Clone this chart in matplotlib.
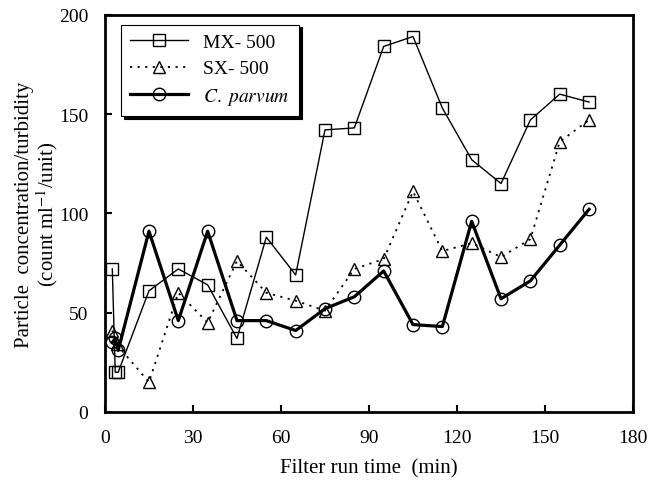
import matplotlib
matplotlib.use("Agg")
import matplotlib.pyplot as plt

plt.rcParams['font.family'] = ['Liberation Serif', 'DejaVu Serif']
plt.rcParams['mathtext.fontset'] = 'stix'

# MX-500 particle counts
mx_t = [2.5, 3.5, 4.5, 15, 25, 35, 45, 55, 65, 75, 85, 95, 105, 115, 125, 135, 145, 155, 165]
mx_v = [72, 20, 20, 61, 72, 64, 37, 88, 69, 142, 143, 184, 189, 153, 127, 115, 147, 160, 156]

# SX-500 particle counts
sx_t = [2.5, 4, 15, 25, 35, 45, 55, 65, 75, 85, 95, 105, 115, 125, 135, 145, 155, 165]
sx_v = [41, 34, 15, 60, 45, 76, 60, 56, 51, 72, 77, 111, 81, 85, 78, 87, 136, 147]

# C. parvum
cp_t = [2.5, 3.5, 4.5, 15, 25, 35, 45, 55, 65, 75, 85, 95, 105, 115, 125, 135, 145, 155, 165]
cp_v = [35, 37, 31, 91, 46, 91, 46, 46, 41, 52, 58, 71, 44, 43, 96, 57, 66, 84, 102]

fig = plt.figure(figsize=(6.56, 4.81), dpi=100)
ax = fig.add_axes([0.160, 0.1414, 0.805, 0.826])

ax.plot(mx_t, mx_v, color='black', lw=1.0, marker='s', ms=9, mfc='none', mew=1.0,
        label='MX- 500')
ax.plot(sx_t, sx_v, color='black', lw=1.3, ls=(0, (1.2, 3)), marker='^', ms=9, mfc='none',
        mew=1.0, label='SX- 500')
ax.plot(cp_t, cp_v, color='black', lw=2.3, marker='o', ms=9, mfc='none', mew=1.0,
        label='$\\mathit{C.\\ parvum}$')

ax.set_xlim(0, 180)
ax.set_ylim(0, 200)
ax.set_xticks([0, 30, 60, 90, 120, 150, 180])
ax.set_yticks([0, 50, 100, 150, 200])
ax.tick_params(direction='in', length=5, width=1.5, labelsize=14, pad=12)
for s in ax.spines.values():
    s.set_linewidth(2)

ax.set_xlabel('Filter run time  (min)', fontsize=15, labelpad=9)
ax.set_ylabel('Particle  concentration/turbidity\n(count ml$^{-1}$/unit)', fontsize=15,
              linespacing=1.0)
ax.yaxis.set_label_coords(-0.086, 0.5)

leg = ax.legend(loc='upper left', bbox_to_anchor=(0.03, 0.975), borderaxespad=0,
                fontsize=14, fancybox=False,
                shadow={'facecolor': 'black', 'edgecolor': 'black', 'alpha': 1},
                edgecolor='black', framealpha=1,
                handlelength=3, borderpad=0.45, labelspacing=0.45)
leg.get_frame().set_linewidth(0.8)

fig.savefig('out.png', dpi=100)
